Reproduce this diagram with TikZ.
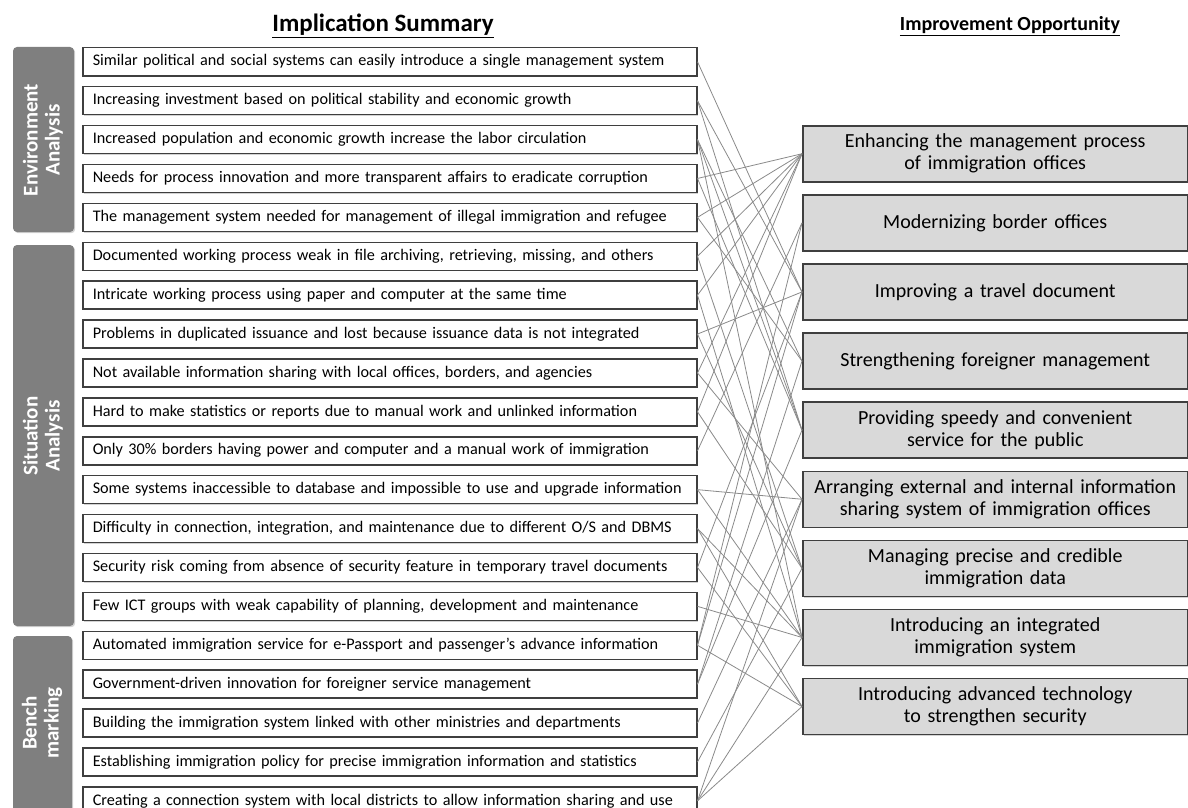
\documentclass[tikz,border=0pt]{standalone}
\usepackage{fontspec}
\setmainfont{Carlito}
\usetikzlibrary{shadows}
\definecolor{boxline}{HTML}{3F3F3F}
\definecolor{catfill}{HTML}{7F7F7F}
\definecolor{oppfill}{HTML}{D9D9D9}
\definecolor{linkgray}{HTML}{8A8A8A}
\begin{document}
\begin{tikzpicture}[x=1pt,y=-1pt,
  imp/.style={draw=boxline, line width=1.5pt, fill=white, anchor=north west,
    minimum height=28pt, inner xsep=10pt, inner ysep=0pt, text width=594pt, align=left,
    font=\fontsize{16.2}{18}\selectfont,
    drop shadow={shadow xshift=1.2pt, shadow yshift=-1.2pt, opacity=.35}},
  opp/.style={draw=boxline, line width=1.5pt, fill=oppfill, anchor=north west,
    minimum height=56pt, text width=381pt, inner xsep=2pt, inner ysep=0pt, align=center,
    font=\fontsize{20}{22}\selectfont,
    drop shadow={shadow xshift=1.2pt, shadow yshift=-1.2pt, opacity=.35}},
  cat/.style={fill=catfill, rounded corners=4pt,
    drop shadow={shadow xshift=1.2pt, shadow yshift=-1.2pt, opacity=.35}},
  catlabel/.style={rotate=90, text=white, align=center,
    font=\bfseries\fontsize{21}{22}\selectfont},
  heading/.style={font=\bfseries\fontsize{25}{28}\selectfont},
  heading2/.style={font=\bfseries\fontsize{20}{24}\selectfont},
  conn/.style={draw=linkgray, line width=0.8pt}
]
\useasboundingbox (0,0) rectangle (1188,808);
\begin{scope}
\clip (0,0) rectangle (1188,808);

% headings
\node[heading] (h1) at (383,26) {\underline{Implication Summary}};
\node[heading2] (h2) at (1010,26) {\underline{Improvement Opportunity}};

% category bars
\path[cat] (13,47) rectangle (74,232);
\path[cat] (13,245) rectangle (74,626);
\path[cat] (13,636) rectangle (72,830);
\node[catlabel] (c1) at (43,140) {Environment\\Analysis};
\node[catlabel] (c2) at (43,436) {Situation\\Analysis};
\node[catlabel] (c3) at (42,723) {Bench\\marking};

% implication summary boxes
\foreach \i/\t in {
 1/Similar political and social systems can easily introduce a single management system,
 2/Increasing investment based on political stability and economic growth,
 3/Increased population and economic growth increase the labor circulation,
 4/Needs for process innovation and more transparent affairs to eradicate corruption,
 5/The management system needed for management of illegal immigration and refugee,
 6/{Documented working process weak in file archiving, retrieving, missing, and others},
 7/Intricate working process using paper and computer at the same time,
 8/Problems in duplicated issuance and lost because issuance data is not integrated,
 9/{Not available information sharing with local offices, borders, and agencies},
 10/Hard to make statistics or reports due to manual work and unlinked information,
 11/Only 30\% borders having power and computer and a manual work of immigration,
 12/Some systems inaccessible to database and impossible to use and upgrade information,
 13/{Difficulty in connection, integration, and maintenance due to different O/S and DBMS},
 14/Security risk coming from absence of security feature in temporary travel documents,
 15/{Few ICT groups with weak capability of planning, development and maintenance},
 16/Automated immigration service for e-Passport and passenger's advance information,
 17/Government-driven innovation for foreigner service management,
 18/Building the immigration system linked with other ministries and departments,
 19/Establishing immigration policy for precise immigration information and statistics,
 20/Creating a connection system with local districts to allow information sharing and use}
 {\node[imp] (l\i) at (82,{47+38.9*(\i-1)}) {\mbox{\t}};}

% improvement opportunity boxes
\foreach \j/\t in {
 1/{Enhancing the management process\\of immigration offices},
 2/{Modernizing border offices},
 3/{Improving a travel document},
 4/{Strengthening foreigner management},
 5/{Providing speedy and convenient\\service for the public},
 6/{Arranging external and internal information\\sharing system of immigration offices},
 7/{Managing precise and credible\\immigration data},
 8/{Introducing an integrated\\immigration system},
 9/{Introducing advanced technology\\to strengthen security}}
 {\node[opp] (r\j) at (802,{125+69.1*(\j-1)}) {\t};}

% links between implications and opportunities
\foreach \a/\b in {1/3, 2/3, 2/5, 3/4, 3/5, 3/8, 4/1, 4/5, 5/1, 5/4,
  6/1, 6/7, 7/1, 7/8, 8/3, 8/7, 9/1, 9/6, 10/1, 10/7, 11/2,
  12/6, 12/8, 13/8, 13/9, 14/3, 14/9, 15/8, 16/2, 16/3, 16/9,
  17/4, 17/5, 18/6, 19/7, 20/6, 20/8, 20/9}
 {\draw[conn] (l\a.east) -- (r\b.west);}
\end{scope}
\end{tikzpicture}
\end{document}
